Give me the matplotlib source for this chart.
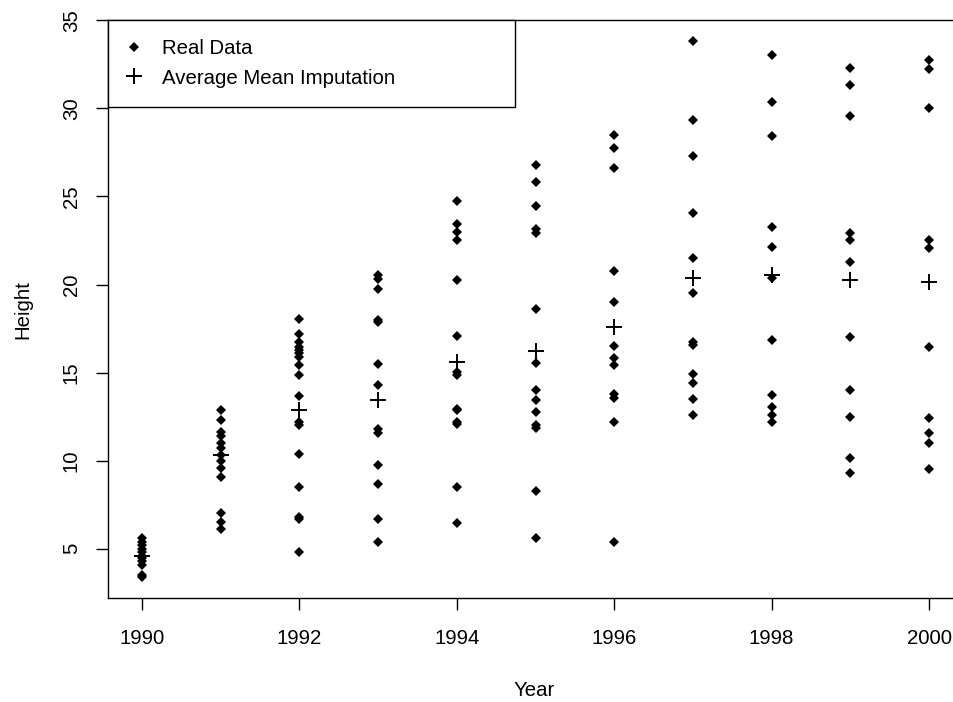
import numpy as np
import matplotlib
matplotlib.use("Agg")
import matplotlib.pyplot as plt
from matplotlib.lines import Line2D

plt.rcParams['font.family'] = ['Liberation Sans', 'DejaVu Sans']

# observed heights per year
years = [1990, 1991, 1992, 1993, 1994, 1995, 1996, 1997, 1998, 1999, 2000]
heights = [
    [5.6, 5.4, 5.2, 5.0, 4.8, 4.6, 4.5, 4.3, 4.1, 3.5, 3.4],
    [12.85, 12.3, 11.6, 11.4, 11.0, 10.7, 10.3, 10.0, 9.6, 9.1, 7.05, 6.5, 6.1],
    [18.05, 17.2, 16.76, 16.44, 16.29, 16.1, 15.87, 15.44, 14.87, 13.7,
     12.22, 12.03, 10.37, 8.48, 6.83, 6.68, 4.81],
    [20.54, 20.31, 19.75, 18.0, 17.9, 15.48, 14.3, 11.79, 11.56, 9.76,
     8.69, 6.7, 5.41],
    [24.76, 23.43, 23.0, 22.53, 20.26, 17.1, 15.06, 14.87, 12.95, 12.85,
     12.2, 12.1, 8.48, 6.46],
    [26.78, 25.83, 24.47, 23.15, 22.91, 18.61, 15.53, 14.02, 13.45, 12.79,
     12.03, 11.85, 8.25, 5.61],
    [28.48, 27.76, 26.59, 20.77, 19.03, 16.51, 15.82, 15.44, 13.79, 13.55,
     12.22, 5.36],
    [33.81, 29.33, 27.31, 24.08, 21.52, 19.5, 16.76, 16.57, 14.91, 14.4,
     13.51, 12.6],
    [33.06, 30.34, 28.44, 23.28, 22.15, 20.37, 16.85, 13.74, 13.07, 12.6, 12.22],
    [32.3, 31.32, 29.58, 22.91, 22.53, 21.3, 17.04, 14.02, 12.5, 10.14, 9.3],
    [32.74, 32.21, 30.0, 22.53, 22.06, 16.47, 12.41, 11.56, 11.03, 9.52],
]
# imputed mean per year
mean_heights = [4.56, 10.33, 12.88, 13.45, 15.62, 16.25, 17.58, 20.35, 20.54, 20.26, 20.16]

fs = 14.7
fig = plt.figure(figsize=(9.54, 7.02), dpi=100)
# right edge of the plot box sits just past the image edge, as in the original
ax = fig.add_axes([108 / 954, (702 - 598.4) / 702, 852.5 / 954, 578.4 / 702])

for yr, hs in zip(years, heights):
    ax.plot([yr] * len(hs), hs, linestyle='none', marker='D', markersize=5.3,
            color='black', markeredgewidth=0)
ax.plot(years, mean_heights, linestyle='none', marker='+', markersize=11,
        markeredgewidth=1.4, color='black')

ax.set_xlim(1989.568, 2000.4)
ax.set_ylim(2.18, 35.02)
ax.set_xticks([1990, 1992, 1994, 1996, 1998, 2000])
ax.set_yticks([5, 10, 15, 20, 25, 30, 35])
ax.tick_params(axis='both', direction='out', length=8.6, width=1.0,
               labelsize=fs, color='black')
ax.tick_params(axis='x', pad=13.5)
ax.tick_params(axis='y', pad=11)
for lab in ax.get_yticklabels():
    lab.set_rotation(90)
    lab.set_va('center')
for sp in ax.spines.values():
    sp.set_linewidth(1.0)
    sp.set_color('black')

ax.set_xlabel('Year', fontsize=fs, labelpad=23.5)
ax.set_ylabel('Height', fontsize=fs, labelpad=21)

handles = [
    Line2D([], [], linestyle='none', marker='D', markersize=5.3, color='black',
           markeredgewidth=0),
    Line2D([], [], linestyle='none', marker='+', markersize=11,
           markeredgewidth=1.4, color='black'),
]
leg = ax.legend(handles, ['Real Data', 'Average Mean Imputation'],
                loc='upper left', bbox_to_anchor=(0, 0, 407 / 852.5, 1),
                mode='expand', borderaxespad=0, fontsize=fs, fancybox=False,
                edgecolor='black', framealpha=1, borderpad=0.95,
                labelspacing=0.5, handlelength=0.65, handletextpad=1.05)
leg.get_frame().set_linewidth(1.0)

fig.savefig('out.png', dpi=100)
